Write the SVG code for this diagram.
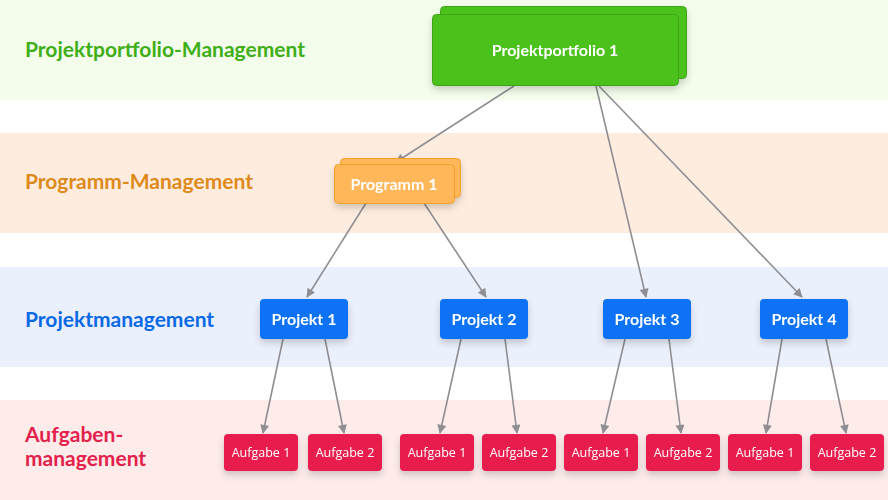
<svg xmlns="http://www.w3.org/2000/svg" width="888" height="500" viewBox="0 0 888 500">
<defs>
<style>
.lbl{font-family:Lato,"Open Sans","Liberation Sans",sans-serif;font-weight:700;font-size:21px}
.nt{font-family:Lato,"Open Sans","Liberation Sans",sans-serif;font-weight:700;fill:#fff;text-anchor:middle}
.at{font-family:"Open Sans","Noto Sans","Liberation Sans",sans-serif;font-size:12.5px;fill:#fff;text-anchor:middle}
.pp{fill:#4cc21c;stroke:#3ea516;stroke-width:1}
.pg{fill:#ffb75a;stroke:#f1a02c;stroke-width:1}
.pj{fill:#0a72f5}
.au{fill:#e81e4e}
.cn{stroke:#8e8e93;stroke-width:1.6;fill:none;marker-end:url(#ah)}
</style>
<marker id="ah" viewBox="0 0 10 10" refX="9" refY="5" markerWidth="10" markerHeight="9" orient="auto" markerUnits="userSpaceOnUse">
<path d="M0,0 L10,5 L0,10 z" fill="#8e8e93"/>
</marker>
<filter id="sh" x="-20%" y="-30%" width="140%" height="170%">
<feDropShadow dx="0" dy="4" stdDeviation="3.5" flood-color="#000" flood-opacity="0.18"/>
</filter>
</defs>
<g id="bands">
<rect x="0" y="0" width="888" height="100" fill="#f4fdec"/>
<rect x="0" y="133" width="888" height="100" fill="#feeddf"/>
<rect x="0" y="267" width="888" height="100" fill="#ebf0fd"/>
<rect x="0" y="400" width="888" height="100" fill="#feeceb"/>
</g>
<g id="labels">
<text class="lbl" x="25" y="57" fill="#40ae17">Projektportfolio-Management</text>
<text class="lbl" x="25" y="189" fill="#de8a1a">Programm-Management</text>
<text class="lbl" x="25" y="327" fill="#0a6ae6">Projektmanagement</text>
<text class="lbl" x="25" y="442" fill="#e3214b">Aufgaben-</text>
<text class="lbl" x="25" y="466" fill="#e3214b">management</text>
</g>
<g id="connectors">
<line class="cn" x1="514" y1="86" x2="396" y2="162"/>
<line class="cn" x1="596" y1="86" x2="646" y2="297"/>
<line class="cn" x1="599" y1="86" x2="802" y2="297"/>
<line class="cn" x1="366" y1="203" x2="307" y2="297"/>
<line class="cn" x1="424" y1="203" x2="486" y2="297"/>
<line class="cn" x1="283" y1="339" x2="263" y2="433"/>
<line class="cn" x1="325" y1="339" x2="344" y2="433"/>
<line class="cn" x1="461" y1="339" x2="440" y2="433"/>
<line class="cn" x1="505" y1="339" x2="517" y2="433"/>
<line class="cn" x1="625" y1="339" x2="603" y2="433"/>
<line class="cn" x1="669" y1="339" x2="681" y2="433"/>
<line class="cn" x1="782" y1="339" x2="766" y2="433"/>
<line class="cn" x1="826" y1="339" x2="846" y2="433"/>
</g>
<g id="portfolio1" filter="url(#sh)">
<rect class="pp" x="440.5" y="6.5" width="246" height="72" rx="4"/>
<rect class="pp" x="432.5" y="14.5" width="246" height="71" rx="4"/>
<text class="nt" x="555" y="56" font-size="16">Projektportfolio 1</text>
</g>
<g id="programm1" filter="url(#sh)">
<rect class="pg" x="340.5" y="158.5" width="120" height="39" rx="4"/>
<rect class="pg" x="334.5" y="164.5" width="120" height="39" rx="4"/>
<text class="nt" x="394" y="189.5" font-size="16">Programm 1</text>
</g>
<g id="projekt1" filter="url(#sh)"><rect class="pj" x="260" y="299" width="88" height="40" rx="4"/><text class="nt" x="304" y="324.5" font-size="16">Projekt 1</text></g>
<g id="projekt2" filter="url(#sh)"><rect class="pj" x="440" y="299" width="88" height="40" rx="4"/><text class="nt" x="484" y="324.5" font-size="16">Projekt 2</text></g>
<g id="projekt3" filter="url(#sh)"><rect class="pj" x="603" y="299" width="88" height="40" rx="4"/><text class="nt" x="647" y="324.5" font-size="16">Projekt 3</text></g>
<g id="projekt4" filter="url(#sh)"><rect class="pj" x="760" y="299" width="88" height="40" rx="4"/><text class="nt" x="804" y="324.5" font-size="16">Projekt 4</text></g>
<g id="aufgabe1a" filter="url(#sh)"><rect class="au" x="224" y="434" width="74" height="37" rx="4"/><text class="at" x="261" y="457">Aufgabe 1</text></g>
<g id="aufgabe1b" filter="url(#sh)"><rect class="au" x="308" y="434" width="74" height="37" rx="4"/><text class="at" x="345" y="457">Aufgabe 2</text></g>
<g id="aufgabe2a" filter="url(#sh)"><rect class="au" x="400" y="434" width="74" height="37" rx="4"/><text class="at" x="437" y="457">Aufgabe 1</text></g>
<g id="aufgabe2b" filter="url(#sh)"><rect class="au" x="482" y="434" width="74" height="37" rx="4"/><text class="at" x="519" y="457">Aufgabe 2</text></g>
<g id="aufgabe3a" filter="url(#sh)"><rect class="au" x="564" y="434" width="74" height="37" rx="4"/><text class="at" x="601" y="457">Aufgabe 1</text></g>
<g id="aufgabe3b" filter="url(#sh)"><rect class="au" x="646" y="434" width="74" height="37" rx="4"/><text class="at" x="683" y="457">Aufgabe 2</text></g>
<g id="aufgabe4a" filter="url(#sh)"><rect class="au" x="728" y="434" width="74" height="37" rx="4"/><text class="at" x="765" y="457">Aufgabe 1</text></g>
<g id="aufgabe4b" filter="url(#sh)"><rect class="au" x="810" y="434" width="74" height="37" rx="4"/><text class="at" x="847" y="457">Aufgabe 2</text></g>
</svg>
